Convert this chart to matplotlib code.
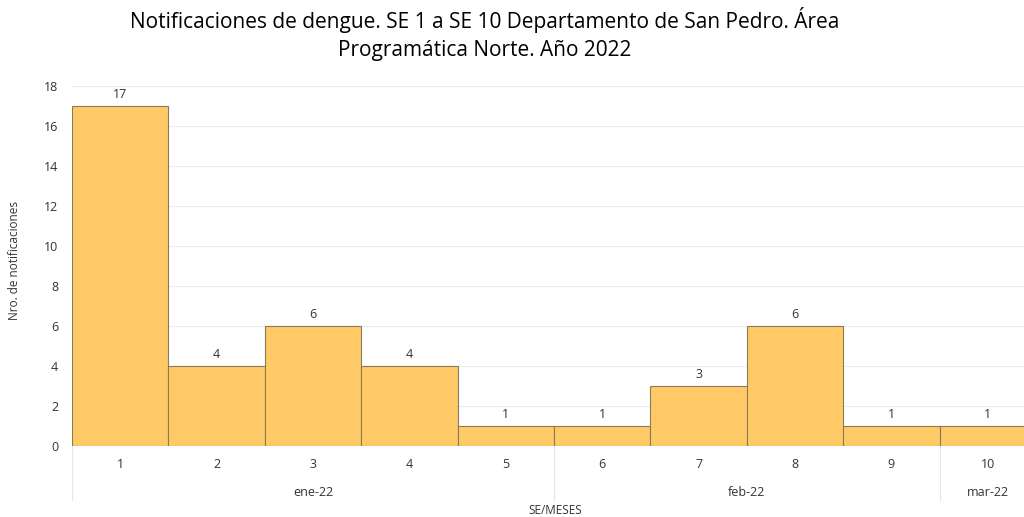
import matplotlib
matplotlib.use("Agg")
import matplotlib.pyplot as plt
from matplotlib.transforms import blended_transform_factory

plt.rcParams['font.family'] = ['Open Sans', 'DejaVu Sans']

semanas = ["1", "2", "3", "4", "5", "6", "7", "8", "9", "10"]
notificaciones = [17, 4, 6, 4, 1, 1, 3, 6, 1, 1]
meses = ["ene-22", "feb-22", "mar-22"]
semanas_por_mes = [5, 4, 1]
yticks = [0, 2, 4, 6, 8, 10, 12, 14, 16, 18]
titulo = "Notificaciones de dengue. SE 1 a SE 10 Departamento de San Pedro. Área\nProgramática Norte. Año 2022"

W, H = 1024, 517
fig = plt.figure(figsize=(W / 100, H / 100), dpi=100)
left, right, bottom, top = 72, 1024, 446, 86
ax = fig.add_axes([left / W, 1 - bottom / H, (right - left) / W, (bottom - top) / H])

n = len(semanas)
xs = list(range(n))
ax.bar(xs, notificaciones, width=1.0, align='edge', color='#FFCA66',
       edgecolor='#8a7a5a', linewidth=0.8, zorder=3)
for x, v in zip(xs, notificaciones):
    ax.text(x + 0.5, v + 0.25, str(v), ha='center', va='bottom', fontsize=9, color='#333333', zorder=4)

ax.set_xlim(0, (right - left) / 96.4)
ax.set_ylim(0, 18)
ax.set_yticks(yticks)
ax.set_yticklabels([str(t) for t in yticks], fontsize=9, color='#333333')
ax.yaxis.grid(True, color='#ececec', linewidth=0.8, zorder=0)
ax.set_axisbelow(True)
for s in ax.spines.values():
    s.set_visible(False)
ax.tick_params(axis='y', length=0, pad=10)
ax.set_xticks([])

trans = blended_transform_factory(ax.transData, fig.transFigure)
def fy(py):
    return 1 - py / H

for x, s in zip(xs, semanas):
    ax.text(x + 0.5, fy(465), s, transform=trans, ha='center', va='center', fontsize=9, color='#333333')

start = 0
bounds = [0]
for m, k in zip(meses, semanas_por_mes):
    ax.text(start + k / 2, fy(493), m, transform=trans, ha='center', va='center', fontsize=9, color='#333333')
    start += k
    bounds.append(start)
for b in bounds[:-1]:
    ax.plot([b, b], [fy(446), fy(500)], transform=trans, color='#e6e6e6', linewidth=0.8, clip_on=False)

fig.text(555 / W, fy(511), "SE/MESES", ha='center', va='center', fontsize=8.5, color='#333333')
fig.text(15 / W, fy(260), "Nro. de notificaciones", ha='center', va='center', rotation=90, fontsize=8.5, color='#333333')
fig.text(485 / W, fy(34), titulo, ha='center', va='center', fontsize=15, color='#000000', linespacing=1.45)

fig.savefig("out.png", dpi=100)
